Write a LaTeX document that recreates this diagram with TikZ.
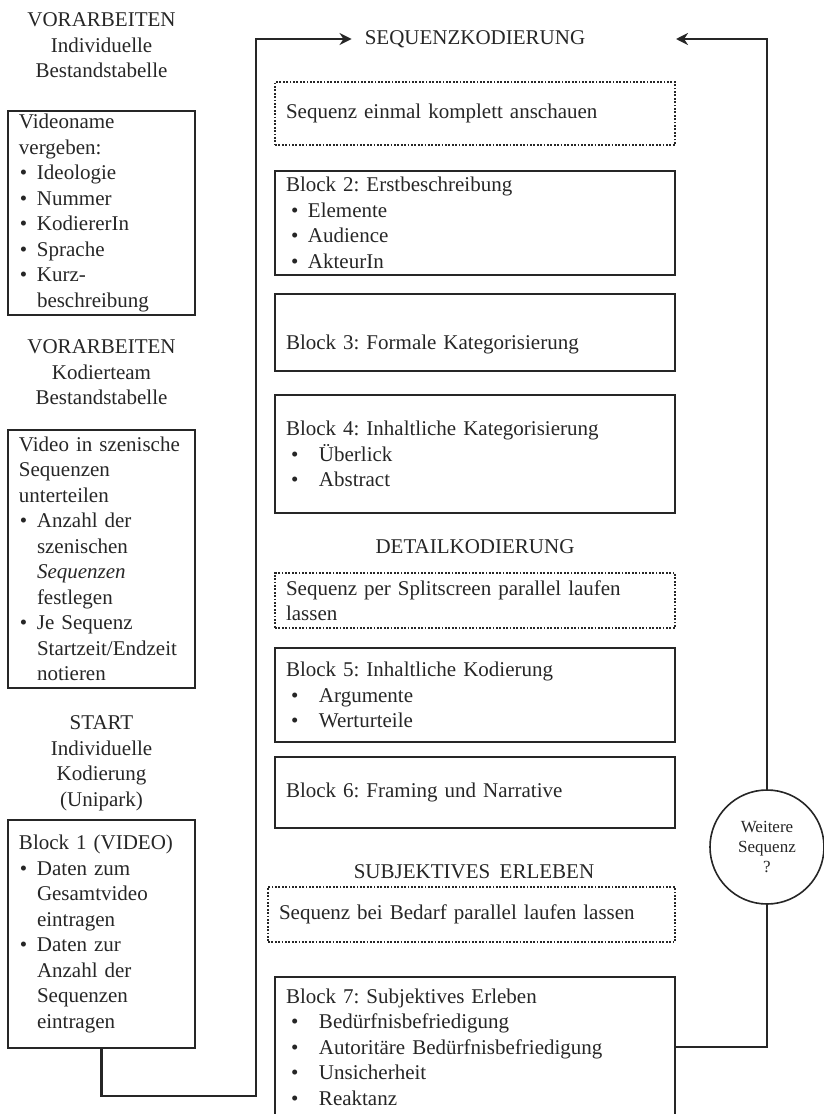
\documentclass[tikz,border=0pt]{standalone}
\usepackage{fontspec}
\setmainfont{Liberation Serif}
\usepackage{tikz}
\usetikzlibrary{arrows.meta}
\frenchspacing

\newcommand{\litem}[1]{\par\noindent\hangindent=18pt\hangafter=1\makebox[18pt][l]{\hspace{1pt}\textbullet}#1\par}
\newcommand{\ritem}[2][33pt]{\par\noindent\hangindent=#1\hangafter=1\makebox[#1][l]{\hspace{5pt}\textbullet}#2\par}

\begin{document}
\begin{tikzpicture}[x=1pt,y=-1pt,
		every node/.style={font=\fontsize{21}{25.5}\selectfont,text=black!85},
		box/.style={rectangle,draw=black!85,line width=2.3pt,inner xsep=11pt,inner ysep=3pt},
		leftbox/.style={box,text width=165pt},
		rightbox/.style={box,text width=378pt},
		dotbox/.style={rightbox,line width=1.8pt,dash pattern=on 1.8pt off 1.6pt},
		heading/.style={inner sep=0pt,align=center},
		decision/.style={circle,draw=black!85,line width=1.6pt,minimum size=114pt,inner sep=0pt,align=center,font=\fontsize{17}{20}\selectfont}]
		\useasboundingbox (0,0) rectangle (824,1114);
		\clip (0,0) rectangle (824,1114);

		\node[heading] (vorind) at (101.5,45.5) {VORARBEITEN\\Individuelle\\Bestandstabelle};
		\node[leftbox,minimum height=204pt] (videoname) at (101.5,213) {Videoname\newline vergeben:
			\litem{Ideologie}\litem{Nummer}\litem{KodiererIn}\litem{Sprache}\litem{Kurz-\newline beschreibung}};
		\node[heading] (vorteam) at (101.5,372.5) {VORARBEITEN\\Kodierteam\\Bestandstabelle};
		\node[leftbox,minimum height=258pt] (szenen) at (101.5,559) {Video in szenische\newline Sequenzen\newline unterteilen
			\litem{Anzahl der\newline szenischen\newline \textit{Sequenzen}\newline festlegen}\litem{Je Sequenz\newline Startzeit/Endzeit\newline notieren}};
		\node[heading] (start) at (101.5,763.5) {START\\Individuelle\\Kodierung\\(Unipark)};
		\node[leftbox,minimum height=228pt] (blockone) at (101.5,934) {Block 1 (VIDEO)
			\litem{Daten zum\newline Gesamtvideo\newline eintragen}\litem{Daten zur\newline Anzahl der\newline Sequenzen\newline eintragen}};

		\node[heading] (seqhead) at (475,39) {SEQUENZKODIERUNG};
		\node[dotbox,minimum height=63pt] (anschauen) at (475,113.5) {Sequenz einmal komplett anschauen};
		\node[rightbox,minimum height=104pt] (blocktwo) at (475,223) {Block 2: Erstbeschreibung
			\ritem[22pt]{Elemente}\ritem[22pt]{Audience}\ritem[22pt]{AkteurIn}};
		\node[rightbox,minimum height=77pt,text height=38pt,text depth=5pt] (blockthree) at (475,332.5) {Block 3: Formale Kategorisierung};
		\node[rightbox,minimum height=118pt] (blockfour) at (475,454) {Block 4: Inhaltliche Kategorisierung
			\ritem{Überlick}\ritem{Abstract}};
		\node[heading] (detailhead) at (475,547) {DETAILKODIERUNG};
		\node[dotbox,minimum height=55pt] (splitscreen) at (475,600.5) {Sequenz per Splitscreen parallel laufen\newline lassen};
		\node[rightbox,minimum height=94pt] (blockfive) at (475,695) {Block 5: Inhaltliche Kodierung
			\ritem{Argumente}\ritem{Werturteile}};
		\node[rightbox,minimum height=71pt] (blocksix) at (475,792.5) {Block 6: Framing und Narrative};
		\node[heading] (subjhead) at (474,872) {SUBJEKTIVES\hspace{0.45em}ERLEBEN};
		\node[dotbox,minimum height=55pt,text width=385pt] (bedarf) at (471.5,914.5) {Sequenz bei Bedarf parallel laufen lassen};
		\node[rightbox,minimum height=140pt] (blockseven) at (475,1047) {Block 7: Subjektives Erleben
			\ritem{Bedürfnisbefriedigung}\ritem{Autoritäre Bedürfnisbefriedigung}\ritem{Unsicherheit}\ritem{Reaktanz}};
		\node[decision] (weitere) at (767,847) {Weitere\\Sequenz\\?};

		\coordinate (lbottom) at (256,1096);
		\coordinate (rtip) at (676,39);

		\begin{scope}[>={Stealth[length=12pt,width=12pt]},
		              line width=2.6pt,draw=black!85]
		    \draw[->,shorten >=13pt] (blockone.south) |- (lbottom) |- (seqhead.west);
		    \draw (blockseven.east) -| (weitere.south);
		    \draw[->] (weitere.north) |- (rtip);
		\end{scope}
\end{tikzpicture}
\end{document}
